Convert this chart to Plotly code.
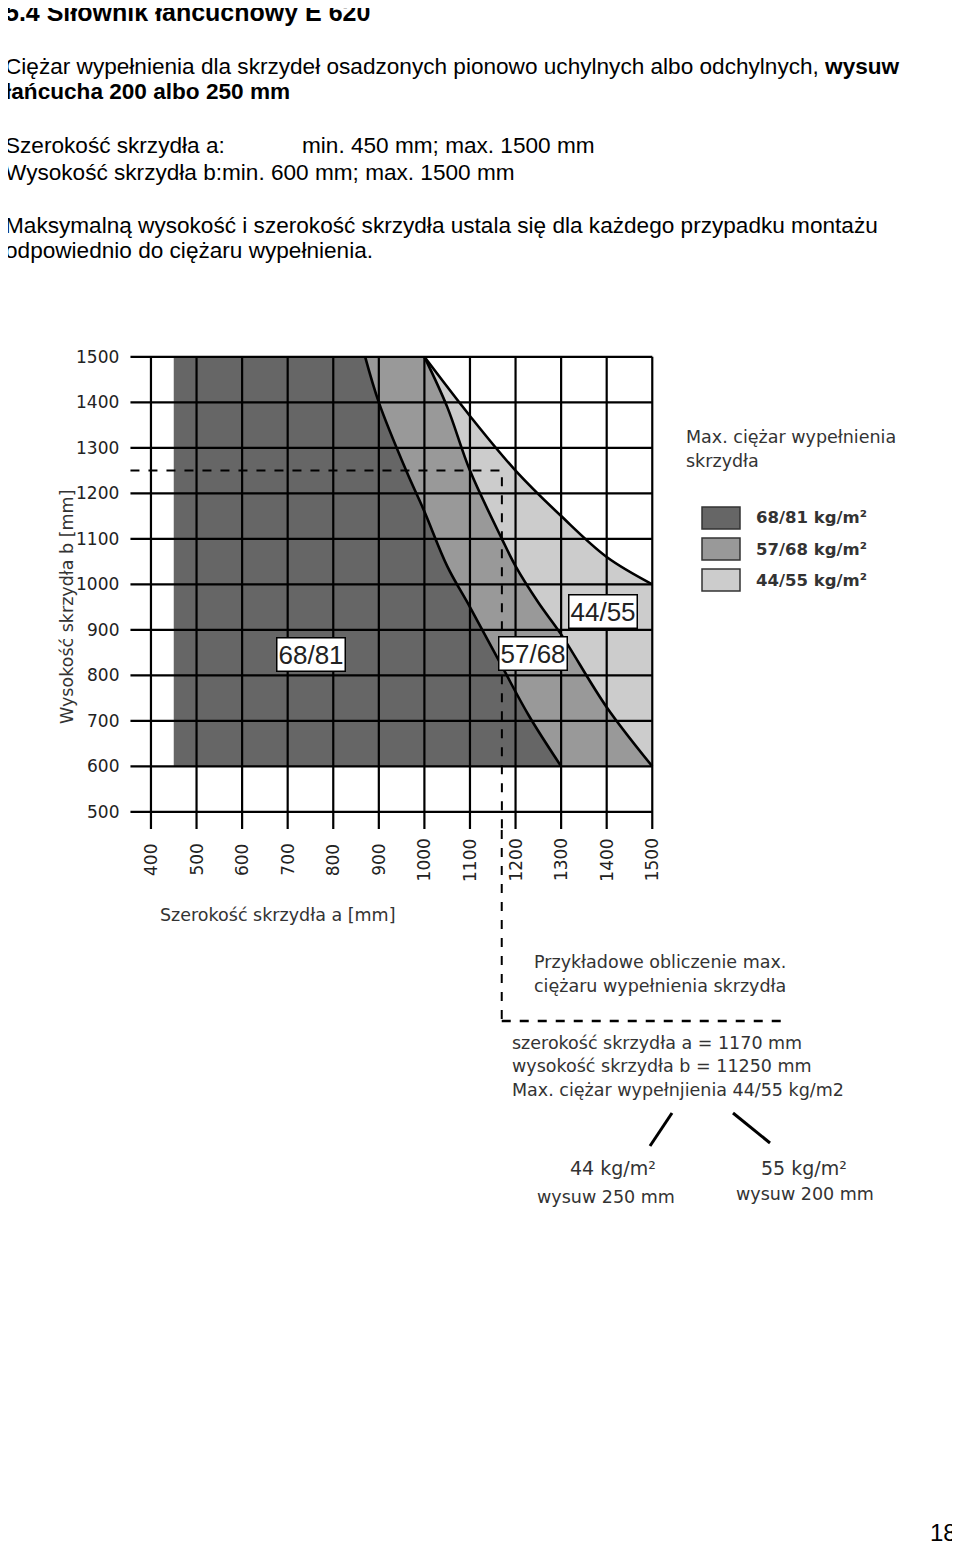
import plotly.graph_objects as go

O = 8  # page body offset
W, H = 960 - O, 1543 - O
def px(x): return (x - O) / W
def py(y): return 1 - (y - O) / H

# data
x_ticks = [400, 500, 600, 700, 800, 900, 1000, 1100, 1200, 1300, 1400, 1500]
y_ticks = [500, 600, 700, 800, 900, 1000, 1100, 1200, 1300, 1400, 1500]
curve1_x = [870, 900, 960, 1000, 1050, 1100, 1170, 1230, 1300]
curve1_y = [1500, 1400, 1250, 1160, 1040, 950, 820, 710, 600]
curve2_x = [1000, 1050, 1100, 1170, 1200, 1250, 1300, 1400, 1500]
curve2_y = [1500, 1390, 1250, 1100, 1040, 960, 890, 730, 600]
curve3_x = [1000, 1100, 1200, 1300, 1400, 1500]
curve3_y = [1500, 1370, 1250, 1150, 1060, 1000]
a_min, b_min, b_max = 450, 600, 1500
example_a, example_b = 1170, 1250
classes = ["68/81 kg/m²", "57/68 kg/m²", "44/55 kg/m²"]
colors = ["#666666", "#999999", "#cccccc"]

fig = go.Figure()
fig.add_trace(go.Scatter(x=curve2_x + [1500] + curve3_x[::-1], y=curve2_y + [1000] + curve3_y[::-1],
                         fill="toself", fillcolor=colors[2], line=dict(width=0), mode="lines", hoverinfo="skip"))
fig.add_trace(go.Scatter(x=curve1_x + [1500] + curve2_x[::-1], y=curve1_y + [b_min] + curve2_y[::-1],
                         fill="toself", fillcolor=colors[1], line=dict(width=0), mode="lines", hoverinfo="skip"))
fig.add_trace(go.Scatter(x=[a_min, a_min] + curve1_x, y=[b_min, b_max] + curve1_y,
                         fill="toself", fillcolor=colors[0], line=dict(width=0), mode="lines", hoverinfo="skip"))
for xv in x_ticks:
    fig.add_trace(go.Scatter(x=[xv, xv], y=[462, 1500], mode="lines", line=dict(color="black", width=2.2), hoverinfo="skip"))
for yv in y_ticks:
    fig.add_trace(go.Scatter(x=[355, 1500], y=[yv, yv], mode="lines", line=dict(color="black", width=2.2), hoverinfo="skip"))
for cx, cy in [(curve1_x, curve1_y), (curve2_x, curve2_y), (curve3_x, curve3_y)]:
    fig.add_trace(go.Scatter(x=cx, y=cy, mode="lines", line=dict(color="black", width=2.6, shape="spline"), hoverinfo="skip"))
fig.add_trace(go.Scatter(x=[355, example_a, example_a], y=[example_b, example_b, 462], mode="lines",
                         line=dict(color="black", width=2, dash="dash"), hoverinfo="skip"))

xa = 151 + (example_a - 400) * 0.4555
fig.add_shape(type="line", xref="paper", yref="paper", x0=px(xa), x1=px(xa), y0=py(830), y1=py(1021),
              line=dict(color="black", width=2, dash="dash"))
fig.add_shape(type="line", xref="paper", yref="paper", x0=px(xa), x1=px(785), y0=py(1021), y1=py(1021),
              line=dict(color="black", width=2.5, dash="dash"))
fig.add_shape(type="line", xref="paper", yref="paper", x0=px(672), x1=px(650), y0=py(1113), y1=py(1146), line=dict(color="black", width=3))
fig.add_shape(type="line", xref="paper", yref="paper", x0=px(733), x1=px(770), y0=py(1113), y1=py(1143), line=dict(color="black", width=3))

ann = []
def T(x, y, t, size=18, xa="left", bold=False, color="black", font="Liberation Sans", **kw):
    ann.append(dict(x=px(x), y=py(y), xref="paper", yref="paper", text=f"<b>{t}</b>" if bold else t,
                    showarrow=False, xanchor=xa, yanchor="middle", font=dict(size=size, color=color, family=font), **kw))

S = 22.6
T(3, 12, "5.4 Siłownik łańcuchowy E 620", 25, bold=True)
T(3, 67, "Ciężar wypełnienia dla skrzydeł osadzonych pionowo uchylnych albo odchylnych, <b>wysuw</b>", S)
T(3, 92, "łańcucha 200 albo 250 mm", S, bold=True)
T(3, 145, "Szerokość skrzydła a:", S)
T(300, 145, "min. 450 mm; max. 1500 mm", S)
T(3, 172, "Wysokość skrzydła b:min. 600 mm; max. 1500 mm", S)
T(3, 225, "Maksymalną wysokość i szerokość skrzydła ustala się dla każdego przypadku montażu", S)
T(3, 251, "odpowiednio do ciężaru wypełnienia.", S)
T(959, 1532, "18", 24, xa="right")

g = "DejaVu Sans"
for yv in y_ticks:
    ann.append(dict(x=px(121), y=yv, xref="paper", yref="y", text=str(yv), showarrow=False, xanchor="right",
                    font=dict(size=17, color="#222", family=g)))
for xv in x_ticks:
    ann.append(dict(x=xv, y=py(860), xref="x", yref="paper", text=str(xv), showarrow=False, textangle=-90,
                    font=dict(size=17, color="#222", family=g)))
T(278, 915, "Szerokość skrzydła a [mm]", 17.5, xa="center", font=g, color="#333")
ann.append(dict(x=px(55), y=py(607), xref="paper", yref="paper", text="Wysokość skrzydła b [mm]", showarrow=False,
                textangle=-90, font=dict(size=17.5, color="#333", family=g)))
for t, xv, yv in [("68/81", 751, 845), ("57/68", 1239, 847), ("44/55", 1392, 940)]:
    ann.append(dict(x=xv, y=yv, xref="x", yref="y", text=t, showarrow=False, bgcolor="white",
                    bordercolor="black", borderwidth=1.5, borderpad=1, font=dict(size=26, color="#222", family="Liberation Sans")))
T(684, 437, "Max. ciężar wypełnienia", 17.5, font=g, color="#333")
T(684, 461, "skrzydła", 17.5, font=g, color="#333")
for i, lab in enumerate(classes):
    yc = 518 + i * 31
    fig.add_shape(type="rect", xref="paper", yref="paper", x0=px(702), x1=px(740), y0=py(yc - 11), y1=py(yc + 11),
                  fillcolor=colors[i], line=dict(color="#333", width=1.5))
    T(754, yc, lab, 16.5, font=g, bold=True, color="#333")
T(532, 962, "Przykładowe obliczenie max.", 17.5, font=g, color="#333")
T(532, 986, "ciężaru wypełnienia skrzydła", 17.5, font=g, color="#333")
T(510, 1043, "szerokość skrzydła a = 1170 mm", 17.5, font=g, color="#333")
T(510, 1066, "wysokość skrzydła b = 11250 mm", 17.5, font=g, color="#333")
T(510, 1090, "Max. ciężar wypełnjienia 44/55 kg/m2", 17.5, font=g, color="#333")
T(613, 1168, "44 kg/m²", 19, xa="center", font=g, color="#333")
T(606, 1197, "wysuw 250 mm", 17.5, xa="center", font=g, color="#333")
T(804, 1168, "55 kg/m²", 19, xa="center", font=g, color="#333")
T(805, 1194, "wysuw 200 mm", 17.5, xa="center", font=g, color="#333")

fig.update_layout(width=W, height=H, margin=dict(l=0, r=0, t=0, b=0), showlegend=False,
                  paper_bgcolor="white", plot_bgcolor="white", annotations=ann,
                  xaxis=dict(domain=[px(130), px(655)], range=[354, 1506], visible=False, fixedrange=True),
                  yaxis=dict(domain=[py(830), py(355)], range=[460, 1504], visible=False, fixedrange=True))
fig.write_html("out.html")
